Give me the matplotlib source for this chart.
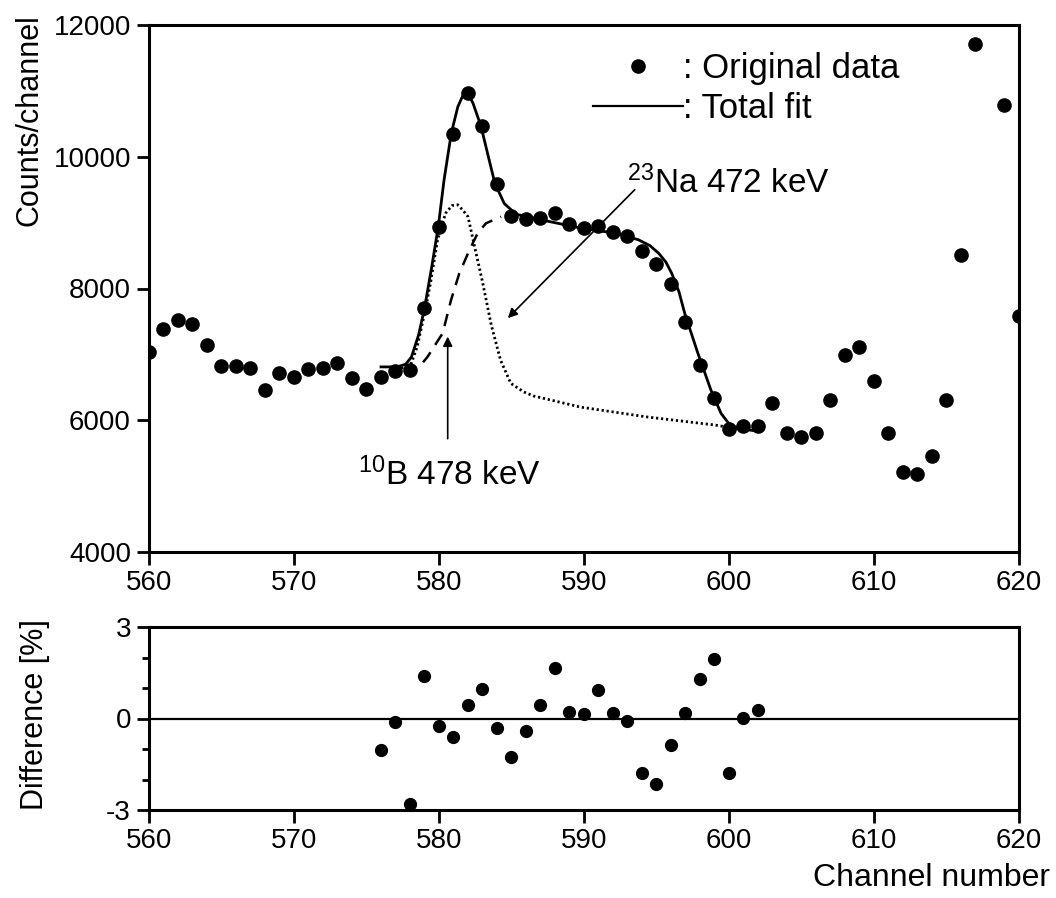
"""
Gamma spectrum fit around the 10B 478 keV / 23Na 472 keV region,
with fit residuals in a lower panel. Writes out.png.
"""

import matplotlib

matplotlib.use("Agg")
import matplotlib.pyplot as plt
from matplotlib.lines import Line2D
from matplotlib.ticker import MultipleLocator

plt.rcParams["font.family"] = ["Liberation Sans", "DejaVu Sans"]
plt.rcParams["mathtext.default"] = "regular"
plt.rcParams["axes.unicode_minus"] = False

# --- measured spectrum (channel, counts/channel); channel 618 is off-scale
channels = [560, 561, 562, 563, 564, 565, 566, 567, 568, 569,
            570, 571, 572, 573, 574, 575, 576, 577, 578, 579,
            580, 581, 582, 583, 584, 585, 586, 587, 588, 589,
            590, 591, 592, 593, 594, 595, 596, 597, 598, 599,
            600, 601, 602, 603, 604, 605, 606, 607, 608, 609,
            610, 611, 612, 613, 614, 615, 616, 617, 619, 620]
counts = [7030, 7380, 7520, 7460, 7140, 6820, 6830, 6790, 6460, 6710,
          6650, 6780, 6790, 6870, 6640, 6470, 6660, 6750, 6760, 7710,
          8930, 10350, 10970, 10470, 9590, 9100, 9050, 9070, 9145, 8980,
          8925, 8955, 8865, 8795, 8570, 8370, 8065, 7490, 6840, 6345,
          5870, 5910, 5910, 6255, 5805, 5745, 5810, 6300, 6985, 7105,
          6600, 5805, 5215, 5185, 5460, 6300, 8515, 11710, 10780, 7575]

# --- total fit (solid)
fit_ch = [576.0, 577.1, 577.7, 578.1, 578.6, 579.0, 579.5, 579.95, 580.35,
          580.85, 581.3, 581.65, 581.85, 582.1, 582.35, 582.9, 583.35,
          583.85, 584.5, 585.1, 585.45, 586.1, 587.75, 589.85, 592.15,
          593.75, 594.55, 595.15, 595.65, 596.05, 596.55, 596.95, 597.85,
          598.75, 599.45, 599.95, 600.35, 601.15, 602.1]
fit_counts = [6810, 6810, 6850, 6960, 7300, 7700, 8330, 8940, 9650,
              10360, 10760, 10930, 10970, 10920, 10810, 10460, 10050,
              9600, 9290, 9170, 9120, 9090, 9010, 8915, 8840,
              8740, 8650, 8535, 8400, 8230, 7950, 7620, 7020,
              6460, 6105, 5960, 5900, 5860, 5830]

# --- 10B 478 keV component (dotted)
b10_ch = [577.4, 578.1, 578.5, 579.1, 579.45, 579.9, 580.45, 580.9, 581.3,
          581.6, 582.0, 582.45, 583.0, 583.6, 584.25, 584.95, 585.85,
          586.5, 589.75, 594.35, 598.95, 600.35, 601.2]
b10_counts = [6790, 6870, 7120, 7720, 8130, 8740, 9140, 9260, 9270,
              9200, 9090, 8640, 8100, 7450, 6910, 6560, 6430,
              6370, 6200, 6050, 5930, 5880, 5860]

# --- 23Na 472 keV component (dashed), hidden under the total fit after ~584
na23_ch = [578.9, 579.2, 580.25, 580.83, 581.4, 582.1, 582.67, 583.24, 584.28]
na23_counts = [6880, 6960, 7320, 7825, 8230, 8585, 8840, 8990, 9090]

# --- residuals (%)
diff_ch = list(range(576, 603))
diff_pct = [-1.02, -0.11, -2.8, 1.4, -0.24, -0.6, 0.43, 0.97, -0.3,
            -1.25, -0.4, 0.43, 1.65, 0.22, 0.15, 0.93, 0.19, -0.08,
            -1.79, -2.15, -0.88, 0.18, 1.28, 1.95, -1.8, 0.02, 0.27]

W, H = 1056, 898
fig = plt.figure(figsize=(W / 100, H / 100), dpi=100)

left, right = 149 / W, 1019 / W
ax = fig.add_axes([left, 1 - 552 / H, right - left, (552 - 25) / H])
axd = fig.add_axes([left, 1 - 810 / H, right - left, (810 - 627) / H])

TICK_FS = 20
LABEL_FS = 22
NOTE_FS = 24
for a in (ax, axd):
    for s in a.spines.values():
        s.set_linewidth(2.2)
    a.tick_params(direction="out", length=9, width=2.0, labelsize=TICK_FS,
                  top=False, right=False, pad=4)
    a.tick_params(which="minor", direction="out", length=5, width=2.0,
                  top=False, right=False)
    a.set_xlim(560, 620)
    a.xaxis.set_major_locator(MultipleLocator(10))

# top panel
ax.plot(channels, counts, "o", color="black", ms=9.5)
ax.plot(fit_ch, fit_counts, "-", color="black", lw=2.0)
ax.plot(b10_ch, b10_counts, color="black", lw=2.0, linestyle=(0, (0.8, 1.0)))
ax.plot(na23_ch, na23_counts, color="black", lw=1.8, linestyle=(0, (5, 3.5)))
ax.set_ylim(4000, 12000)
ax.yaxis.set_major_locator(MultipleLocator(2000))

handles = [Line2D([], [], marker="o", ms=9.5, ls="none", color="black"),
           Line2D([], [], ls="-", lw=1.6, color="black")]
ax.legend(handles, [": Original data", ": Total fit"], frameon=False,
          loc="upper left", bbox_to_anchor=(0.502, 0.961), fontsize=25,
          handlelength=2.6, handletextpad=0.0, labelspacing=0.2,
          borderpad=0.2, borderaxespad=0)

ax.annotate("", xy=(580.6, 7270), xytext=(580.6, 5720),
            arrowprops=dict(arrowstyle="-|>", color="black", lw=1.2,
                            mutation_scale=14, shrinkA=0, shrinkB=0))
ax.text(574.4, 5020, r"$^{10}$B 478 keV", fontsize=NOTE_FS, ha="left",
        va="baseline")
ax.annotate("", xy=(584.75, 7550), xytext=(593.5, 9500),
            arrowprops=dict(arrowstyle="-|>", color="black", lw=1.2,
                            mutation_scale=14, shrinkA=0, shrinkB=0))
ax.text(593.0, 9450, r"$^{23}$Na 472 keV", fontsize=NOTE_FS, ha="left",
        va="baseline")

fig.text(30 / W, 1 - 14 / H, "Counts/channel", rotation=90,
         fontsize=LABEL_FS, ha="center", va="top")

# bottom panel
axd.axhline(0, color="black", lw=1.6)
axd.plot(diff_ch, diff_pct, "o", color="black", ms=8.5)
axd.set_ylim(-3, 3)
axd.set_yticks([-3, 0, 3])
axd.yaxis.set_minor_locator(MultipleLocator(1))
fig.text(35 / W, 1 - 715 / H, "Difference [%]", rotation=90,
         fontsize=LABEL_FS, ha="center", va="center")
fig.text(1050 / W, 1 - 878 / H, "Channel number", fontsize=LABEL_FS + 1,
         ha="right", va="center")

fig.savefig("out.png", dpi=100)
